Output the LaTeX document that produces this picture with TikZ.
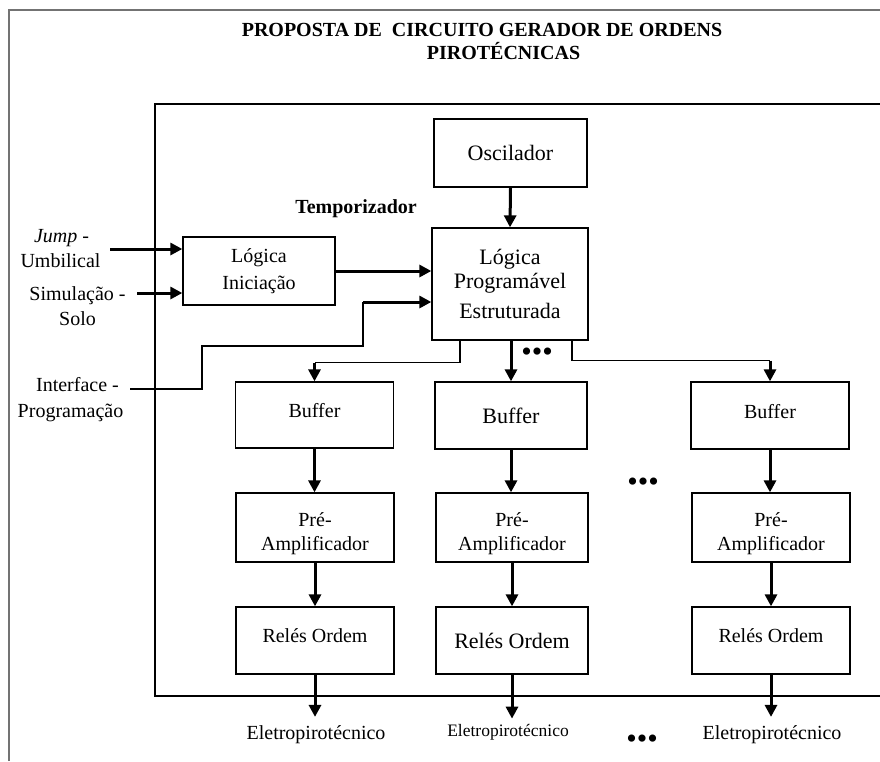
\documentclass[tikz,border=0pt]{standalone}
\usepackage{fontspec}
\setmainfont{Liberation Serif}
\usetikzlibrary{arrows.meta,calc}
\newcommand\fsz[2]{\fontsize{#1}{#2}\selectfont}

\begin{document}
\begin{tikzpicture}[x=1pt,y=-1pt,
  box/.style 2 args={draw=black, line width=1.3pt, minimum width=#1,
    minimum height=#2, inner sep=0pt, align=center, font=\fsz{20}{24}},
  big/.style={font=\fsz{22}{26}},
  raised/.style={text depth=9pt},
  lowered/.style={text height=50pt},
  lbl/.style={anchor=base, inner sep=0pt, font=\fsz{20}{24}},
  arr/.style={line width=3pt, -{Triangle[length=12pt,width=12pt]}},
  wire/.style={line width=1.3pt},
  dots/.style={inner sep=0pt, font=\fsz{30}{30}}]

\useasboundingbox (0,0) rectangle (880,761);

% page frame and timer enclosure
\draw[line width=1.6pt, black!55] (9,761) -- (9,10) -- (880,10);
\draw[line width=1.5pt] (880,104) -- (155,104) -- (155,696) -- (880,696);

% title
\node[lbl, font=\bfseries\fsz{20}{24}] (t1) at (482,36) {PROPOSTA DE\ \ CIRCUITO GERADOR DE ORDENS};
\node[lbl, font=\bfseries\fsz{20}{24}] (t2) at (503.5,59) {PIROTÉCNICAS};
\node[lbl, font=\bfseries\fsz{20}{24}] (tmp) at (356,213) {Temporizador};

% core blocks
\node[box={153pt}{68pt}, big] (osc) at (510.5,153) {Oscilador};
\node[box={156pt}{112pt}, font=\fsz{22}{24}] (lpe) at (510,284) {Lógica\\Programável\\[6pt]Estruturada};
\node[box={152pt}{68pt}, font=\fsz{20}{27}] (li) at (259,271) {Lógica\\Iniciação};

% output channels
\node[box={158pt}{66pt}, raised] (buf1) at (314.5,415) {Buffer};
\node[box={152pt}{67pt}, big] (buf2) at (511,415.5) {Buffer};
\node[box={158pt}{67pt}, raised] (buf3) at (770,415.5) {Buffer};

\node[box={158pt}{69pt}, lowered] (pre1) at (315,527.5) {Pré-\\Amplificador};
\node[box={152pt}{69pt}, lowered] (pre2) at (512,527.5) {Pré-\\Amplificador};
\node[box={158pt}{69pt}, lowered] (pre3) at (771,527.5) {Pré-\\Amplificador};

\node[box={158pt}{67pt}, raised] (rel1) at (315,640.5) {Relés Ordem};
\node[box={152pt}{67pt}, big] (rel2) at (512,640.5) {Relés Ordem};
\node[box={158pt}{67pt}, raised] (rel3) at (771,640.5) {Relés Ordem};

% pyrotechnic loads
\node[lbl] (e1) at (316,739) {Eletropirotécnico};
\node[lbl, font=\fsz{17.5}{21}] (e2) at (508,736) {Eletropirotécnico};
\node[lbl] (e3) at (772,739) {Eletropirotécnico};

% external inputs
\node[lbl] (jmp) at (61.5,242) {\itshape Jump\upshape\ -};
\node[lbl] (umb) at (60.5,267) {Umbilical};
\node[lbl] (sim) at (77.5,300) {Simulação -};
\node[lbl] (solo) at (77.5,325) {Solo};
\node[lbl] (ifc) at (77.5,391) {Interface -};
\node[lbl] (prg) at (70.5,417) {Programação};

% continuation marks
\node[dots] (d1) at (537,355) {•••};
\node[dots] (d2) at (643,485) {•••};
\node[dots] (d3) at (642,742) {•••};

% input connections
\coordinate (jin) at (110,249);
\coordinate (sin) at (137,293);
\draw[arr] (jin) -- (jin -| li.west);
\draw[arr] (sin) -- (sin -| li.west);
\draw[arr] (li.east |- 0,271) -- (lpe.west |- 0,271);

\coordinate (iin) at (130,389);
\coordinate (ik1) at (202,389);
\coordinate (ik2) at (202,346);
\coordinate (ik3) at (363,346);
\coordinate (ik4) at (363,302);
\draw[wire] (iin) -- (ik1) -- (ik2) -- (ik3) -- (ik4);
\draw[arr] (ik4) -- (ik4 -| lpe.west);

\draw[arr] (osc.south) -- (lpe.north);

% fan-out from the programmable logic
\coordinate (fl0) at ($(lpe.south)+(-50,0)$);
\coordinate (fl1) at ($(fl0)+(0,22)$);
\coordinate (fl2) at (fl1 -| buf1.north);
\draw[wire] (fl0) -- (fl1) -- (fl2);
\draw[arr] (fl2) -- (buf1.north);

\draw[arr] (lpe.south -| buf2.north) -- (buf2.north);

\coordinate (fr0) at ($(lpe.south)+(62,0)$);
\coordinate (fr1) at ($(fr0)+(0,20)$);
\coordinate (fr2) at (fr1 -| buf3.north);
\draw[wire] (fr0) -- (fr1) -- (fr2);
\draw[arr] (fr2) -- (buf3.north);

% channel chains
\foreach \i in {1,2,3}{
  \draw[arr] (buf\i.south) -- (buf\i.south |- pre\i.north);
  \draw[arr] (pre\i.south) -- (pre\i.south |- rel\i.north);
}
\draw[arr, shorten >=8pt] (rel1.south) -- (rel1.south |- e1.north);
\draw[arr, shorten >=5pt] (rel2.south) -- (rel2.south |- e2.north);
\draw[arr, shorten >=8pt] (rel3.south) -- (rel3.south |- e3.north);

\end{tikzpicture}
\end{document}
